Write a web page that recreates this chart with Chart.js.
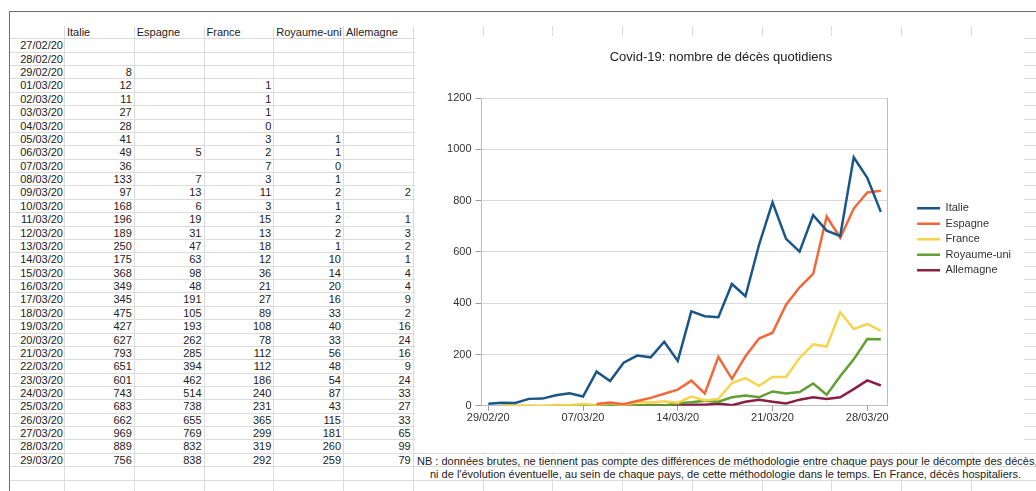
<!DOCTYPE html>
<html lang="fr">
<head>
<meta charset="utf-8">
<title>Covid-19: nombre de décès quotidiens</title>
<script src="https://cdn.jsdelivr.net/npm/chart.js@4.4.1/dist/chart.umd.min.js"></script>
<style>
  html, body { margin: 0; padding: 0; background: #fff; }
  body {
    width: 1036px; height: 491px; position: relative; overflow: hidden;
    font-family: "Liberation Sans", Arial, sans-serif; font-size: 11px; color: #222;
  }
  .hl { position: absolute; height: 1px; background: #dcdcdc; }
  .vl { position: absolute; width: 1px; background: #dcdcdc; }
  .cell { position: absolute; white-space: nowrap; line-height: 13px; }
  .num { text-align: right; }
  .note { position: absolute; white-space: nowrap; line-height: 12px; background: #fff; }
  #frameTop { position: absolute; left: 9px; top: 11px; width: 1027px; height: 1px; background: #6e6e6e; }
  #frameLeft { position: absolute; left: 9px; top: 11px; width: 1px; height: 480px; background: #6e6e6e; }
  #chartBox { position: absolute; left: 415px; top: 36px; width: 609px; height: 416px; background: #fff; }
</style>
</head>
<body>
<div id="sheet"></div>
<div id="frameTop"></div>
<div id="frameLeft"></div>
<div id="chartBox"><canvas id="chart-deces"></canvas></div>

<script>
  // ── Data (copied from the sheet) ──────────────────────────────────
  const dates = [
    '27/02/20', '28/02/20', '29/02/20', '01/03/20', '02/03/20', '03/03/20', '04/03/20', '05/03/20',
    '06/03/20', '07/03/20', '08/03/20', '09/03/20', '10/03/20', '11/03/20', '12/03/20', '13/03/20',
    '14/03/20', '15/03/20', '16/03/20', '17/03/20', '18/03/20', '19/03/20', '20/03/20', '21/03/20',
    '22/03/20', '23/03/20', '24/03/20', '25/03/20', '26/03/20', '27/03/20', '28/03/20', '29/03/20',
  ];
  const countries = ['Italie', 'Espagne', 'France', 'Royaume-uni', 'Allemagne'];

  const italie = [null, null, 8, 12, 11, 27, 28, 41, 49, 36, 133, 97, 168, 196, 189, 250,
    175, 368, 349, 345, 475, 427, 627, 793, 651, 601, 743, 683, 662, 969, 889, 756];
  const espagne = [null, null, null, null, null, null, null, null, 5, null, 7, 13, 6, 19, 31, 47,
    63, 98, 48, 191, 105, 193, 262, 285, 394, 462, 514, 738, 655, 769, 832, 838];
  const france = [null, null, null, 1, 1, 1, 0, 3, 2, 7, 3, 11, 3, 15, 13, 18,
    12, 36, 21, 27, 89, 108, 78, 112, 112, 186, 240, 231, 365, 299, 319, 292];
  const royaumeUni = [null, null, null, null, null, null, null, 1, 1, 0, 1, 2, 1, 2, 2, 1,
    10, 14, 20, 16, 33, 40, 33, 56, 48, 54, 87, 43, 115, 181, 260, 259];
  const allemagne = [null, null, null, null, null, null, null, null, null, null, null, 2, null, 1, 3, 2,
    1, 4, 4, 9, 2, 16, 24, 16, 9, 24, 33, 27, 33, 65, 99, 79];

  const series = [italie, espagne, france, royaumeUni, allemagne];
  const lineColors = ['#1a5686', '#f2683a', '#f6d44c', '#619f30', '#8a1f45'];

  // chart range starts at 29/02, axis labelled once a week
  const chartStart = dates.indexOf('29/02/20');
  const xTickLabels = ['29/02/20', '07/03/20', '14/03/20', '21/03/20', '28/03/20'];
  const yMax = 1200;
  const yStep = 200;

  const chartTitle = 'Covid-19: nombre de décès quotidiens';
  const noteLines = [
    'NB : données brutes, ne tiennent pas compte des différences de méthodologie entre chaque pays pour le décompte des décès,',
    'ni de l\'évolution éventuelle, au sein de chaque pays, de cette méthodologie dans le temps. En France, décès hospitaliers.',
  ];

  // ── Spreadsheet grid ──────────────────────────────────────────────
  const sheet = document.getElementById('sheet');
  const ROW_TOP = 26, ROW_H = 13.37, COL0 = 65, COL_W = 69.75;

  function add(cls, css, text) {
    const d = document.createElement('div');
    d.className = cls;
    Object.assign(d.style, css);
    if (text !== undefined) d.textContent = text;
    sheet.appendChild(d);
    return d;
  }

  for (let r = 0; r < 36; r++) {
    const y = Math.round(ROW_TOP + (r + 1) * ROW_H) - 1;
    add('hl', { left: '10px', top: y + 'px', width: '1026px' });
  }
  for (let c = 0; c < 15; c++) {
    const x = Math.round(COL0 + c * COL_W) - 1;
    add('vl', { left: x + 'px', top: ROW_TOP + 'px', height: (491 - ROW_TOP) + 'px' });
  }

  // header row
  countries.forEach((name, c) => {
    add('cell', { left: (COL0 + c * COL_W + 2) + 'px', top: (ROW_TOP) + 'px' }, name);
  });

  // data rows
  dates.forEach((d, i) => {
    const top = ROW_TOP + (i + 1) * ROW_H;
    add('cell num', { left: '10px', width: (COL0 - 12) + 'px', top: top + 'px' }, d);
    series.forEach((vals, c) => {
      if (vals[i] === null) return;
      add('cell num', { left: (COL0 + c * COL_W) + 'px', width: (COL_W - 3) + 'px', top: top + 'px' }, vals[i]);
    });
  });

  // note below the chart
  const noteRow = dates.length;
  add('note', { left: '417px', top: (ROW_TOP + noteRow * ROW_H + 1) + 'px', width: '619px', height: '11px' }, noteLines[0]);
  add('note', { left: '430px', top: (ROW_TOP + (noteRow + 1) * ROW_H + 1) + 'px', height: '11px' }, noteLines[1]);

  // ── Chart ─────────────────────────────────────────────────────────
  Chart.defaults.font.family = '"Liberation Sans", Arial, sans-serif';
  Chart.defaults.font.size = 11;
  Chart.defaults.color = '#333';

  const chartDates = dates.slice(chartStart);

  new Chart(document.getElementById('chart-deces'), {
    type: 'line',
    data: {
      labels: chartDates,
      datasets: countries.map((name, k) => ({
        label: name,
        data: series[k].slice(chartStart),
        borderColor: lineColors[k],
        backgroundColor: lineColors[k],
        borderWidth: 2.5,
        pointRadius: 0,
        tension: 0,
        spanGaps: false,
      })),
    },
    options: {
      responsive: true,
      maintainAspectRatio: false,
      animation: false,
      layout: { padding: { left: 6, right: 3, top: 0, bottom: 26 } },
      plugins: {
        title: {
          display: true,
          text: chartTitle,
          color: '#222',
          font: { size: 13, weight: 'normal' },
          padding: { top: 14, bottom: 32.4 },
        },
        legend: {
          position: 'right',
          align: 'start',
          fullSize: false,
          maxWidth: 120,
          title: { display: true, text: '', padding: { top: 87, bottom: 0 }, font: { size: 11 } },
          labels: {
            usePointStyle: true,
            pointStyle: 'line',
            pointStyleWidth: 23,
            padding: 4.5,
            color: '#333',
            font: { size: 11 },
          },
        },
        tooltip: { enabled: false },
      },
      scales: {
        x: {
          offset: true,
          ticks: {
            autoSkip: false,
            maxRotation: 0,
            minRotation: 0,
            padding: 1,
            color: '#333',
            callback: function (v) {
              const l = this.getLabelForValue(v);
              return xTickLabels.includes(l) ? l : '';
            },
          },
          grid: {
            drawOnChartArea: false,
            tickLength: 5,
            color: ctx => (ctx.tick && xTickLabels.includes(chartDates[ctx.tick.value])) ? '#9a9a9a' : 'rgba(0,0,0,0)',
          },
          border: { color: '#bdbdbd' },
        },
        y: {
          min: 0,
          max: yMax,
          ticks: { stepSize: yStep, padding: 4, color: '#333', callback: v => String(v) },
          grid: { color: '#d9d9d9', tickLength: 6, tickColor: '#9a9a9a' },
          border: { color: '#bdbdbd' },
          afterFit: s => { s.width = 60.5; },
        },
        y2: {
          position: 'right',
          min: 0,
          max: yMax,
          ticks: { display: false },
          grid: { display: false },
          border: { display: true, color: '#bdbdbd' },
          afterFit: s => { s.width = 25; },
        },
      },
    },
  });
</script>
</body>
</html>
